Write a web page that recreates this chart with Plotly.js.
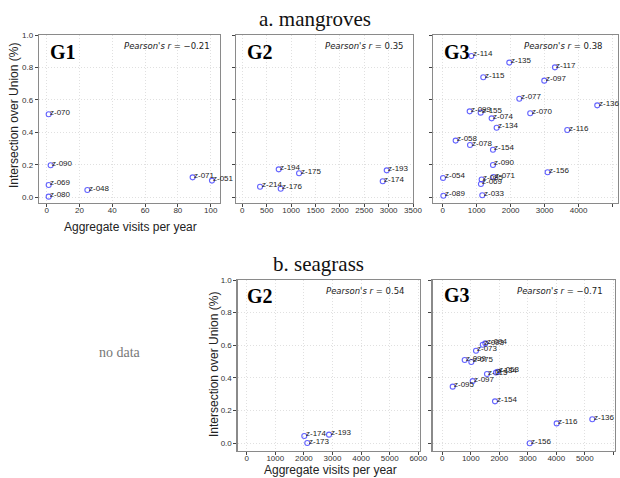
<!DOCTYPE html>
<html>
<head>
<meta charset="utf-8">
<script src="https://cdn.plot.ly/plotly-3.0.1.min.js"></script>
<style>html,body{margin:0;padding:0;background:#fff;}#chart{width:620px;height:478px;}</style>
</head>
<body>
<div id="chart"></div>
<script>
// ---- a. mangroves ----
const mangG1Labels = ['z-070','z-090','z-069','z-080','z-048','z-071','z-051'];
const mangG1Visits = [1.2, 2.4, 1.2, 1.2, 24.8, 89, 100.8];
const mangG1IoU    = [0.512, 0.198, 0.077, 0.005, 0.046, 0.124, 0.104];

const mangG2Labels = ['z-194','z-175','z-214','z-176','z-193','z-174'];
const mangG2Visits = [746, 1163, 363, 787, 2961, 2879];
const mangG2IoU    = [0.173, 0.149, 0.066, 0.054, 0.167, 0.100];

const mangG3Labels = ['z-114','z-135','z-117','z-115','z-097','z-077','z-136','z-099','z-155','z-070','z-074','z-134','z-116','z-058','z-078','z-154','z-090','z-156','z-054','z-085','z-071','z-069','z-089','z-033'];
const mangG3Visits = [843, 1960, 3303, 1195, 2990, 2255, 4549, 794, 1118, 2576, 1441, 1588, 3667, 382, 804, 1480, 1480, 3088, 10, 1147, 1494, 1126, 20, 1165];
const mangG3IoU    = [0.871, 0.830, 0.801, 0.740, 0.719, 0.608, 0.567, 0.530, 0.522, 0.518, 0.487, 0.429, 0.415, 0.350, 0.323, 0.294, 0.200, 0.155, 0.120, 0.111, 0.126, 0.083, 0.011, 0.014];

// ---- b. seagrass ----
const seaG2Labels = ['z-174','z-173','z-193'];
const seaG2Visits = [2014, 2119, 2878];
const seaG2IoU    = [0.045, 0.002, 0.053];

const seaG3Labels = ['z-093','z-094','z-073','z-099','z-075','z-115','z-134','z-053','z-097','z-095','z-154','z-116','z-136','z-156'];
const seaG3Visits = [1418, 1509, 1182, 786, 1018, 1568, 1884, 1944, 1067, 365, 1849, 4014, 5263, 3067];
const seaG3IoU    = [0.604, 0.612, 0.567, 0.510, 0.498, 0.424, 0.434, 0.438, 0.381, 0.347, 0.257, 0.122, 0.147, 0.000];

const pearson = {mG1: '\u22120.21', mG2: '0.35', mG3: '0.38', sG2: '0.54', sG3: '\u22120.71'};
const yTicks = [0, 0.2, 0.4, 0.6, 0.8, 1.0];

const W = 620, H = 478;
const px = v => v / W;
const py = v => 1 - v / H;
const sans = 'Liberation Sans, Arial, sans-serif';
const serif = 'Liberation Serif, Times New Roman, serif';

const layoutAnn = [];
function scatter(x, y, labels, xa, ya) {
  labels.forEach((t, i) => layoutAnn.push({
    text: t, x: x[i], y: y[i], xref: xa, yref: ya, showarrow: false,
    xanchor: 'left', yanchor: 'middle', xshift: 0.5, yshift: 2, borderpad: 0,
    font: {family: sans, size: 8, color: '#222'}
  }));
  return {
    type: 'scatter', mode: 'markers', x: x, y: y,
    xaxis: xa, yaxis: ya, cliponaxis: false,
    marker: {symbol: 'circle-open', size: 5, color: 'rgba(60,60,255,0.8)', line: {width: 1.1}},
    hoverinfo: 'skip', showlegend: false
  };
}

const data = [
  scatter(mangG1Visits, mangG1IoU, mangG1Labels, 'x', 'y'),
  scatter(mangG2Visits, mangG2IoU, mangG2Labels, 'x2', 'y2'),
  scatter(mangG3Visits, mangG3IoU, mangG3Labels, 'x3', 'y3'),
  scatter(seaG2Visits, seaG2IoU, seaG2Labels, 'x4', 'y4'),
  scatter(seaG3Visits, seaG3IoU, seaG3Labels, 'x5', 'y5')
];

const tickFont = {family: sans, size: 8, color: '#333'};
const common = {showline: true, mirror: true, linecolor: '#8a8a8a', linewidth: 1.3,
    ticks: 'outside', ticklen: 3, tickcolor: '#444', tickwidth: 1,
    showgrid: true, gridcolor: '#e0e0e0', griddash: '1px,2px', gridwidth: 1,
    zeroline: false, tickfont: tickFont, fixedrange: true};
function xax(domain, range, dtick, anchor) {
  return Object.assign({domain: domain, range: range, dtick: dtick, tick0: 0, anchor: anchor,
    ticklabelstandoff: -4}, common);
}
function yax(domain, range, anchor, labels) {
  return Object.assign({domain: domain, range: range, tickvals: yTicks, tickformat: '.1f', anchor: anchor,
    showticklabels: labels}, common);
}

const topY = [py(203), py(35)];
const botY = [py(451), py(280)];
const topYr = [-0.034, 1.0];
const botYr = [-0.047, 1.0];

const layout = {
  width: W, height: H, margin: {l: 0, r: 0, t: 0, b: 0},
  paper_bgcolor: '#fff', plot_bgcolor: '#fff',
  xaxis:  xax([px(39), px(220)], [-4.7, 105.7], 20, 'y'),
  yaxis:  yax(topY, topYr, 'x', true),
  xaxis2: xax([px(236), px(413)], [-130, 3500], 500, 'y2'),
  yaxis2: yax(topY, topYr, 'x2', false),
  xaxis3: xax([px(433), px(618)], [-285, 5160], 1000, 'y3'),
  yaxis3: yax(topY, topYr, 'x3', false),
  xaxis4: xax([px(237.7), px(420)], [-315, 6060], 1000, 'y4'),
  yaxis4: yax(botY, botYr, 'x4', true),
  xaxis5: xax([px(432.7), px(615)], [-337, 6060], 1000, 'y5'),
  yaxis5: yax(botY, botYr, 'x5', false),
  annotations: layoutAnn
};

const A = layout.annotations;
function note(text, x, y, opts) {
  A.push(Object.assign({text: text, x: px(x), y: py(y), xref: 'paper', yref: 'paper',
    showarrow: false, xanchor: 'center', yanchor: 'middle'}, opts));
}
note('a. mangroves', 315, 19, {font: {family: serif, size: 21, color: '#111'}});
note('b. seagrass', 318, 264, {font: {family: serif, size: 21, color: '#111'}});
note('no data', 120, 352, {font: {family: serif, size: 14, color: '#777'}});

// axis titles
note('Intersection over Union (%)', 14, 116, {textangle: -90, font: {family: sans, size: 12, color: '#222'}});
note('Aggregate visits per year', 130, 227, {font: {family: sans, size: 12, color: '#222'}});
note('Intersection over Union (%)', 214, 365, {textangle: -90, font: {family: sans, size: 12, color: '#222'}});
note('Aggregate visits per year', 330, 470, {font: {family: sans, size: 12, color: '#222'}});

// panel labels
const gFont = {family: serif, size: 20, color: '#000'};
note('<b>G1</b>', 48, 52, {xanchor: 'left', font: gFont});
note('<b>G2</b>', 245, 52, {xanchor: 'left', font: gFont});
note('<b>G3</b>', 441.7, 52, {xanchor: 'left', font: gFont});
note('<b>G2</b>', 245, 296, {xanchor: 'left', font: gFont});
note('<b>G3</b>', 441.7, 295, {xanchor: 'left', font: gFont});

// Pearson's r
const pFont = {family: 'DejaVu Sans, sans-serif', size: 8.5, color: '#222'};
function pr(v) { return "<i>Pearson's r</i> = " + v; }
note(pr(pearson.mG1), 212, 46, {xanchor: 'right', font: pFont});
note(pr(pearson.mG2), 406, 46, {xanchor: 'right', font: pFont});
note(pr(pearson.mG3), 605, 46, {xanchor: 'right', font: pFont});
note(pr(pearson.sG2), 407, 291, {xanchor: 'right', font: pFont});
note(pr(pearson.sG3), 605, 291, {xanchor: 'right', font: pFont});

Plotly.newPlot('chart', data, layout, {displayModeBar: false, staticPlot: true});
</script>
</body>
</html>
